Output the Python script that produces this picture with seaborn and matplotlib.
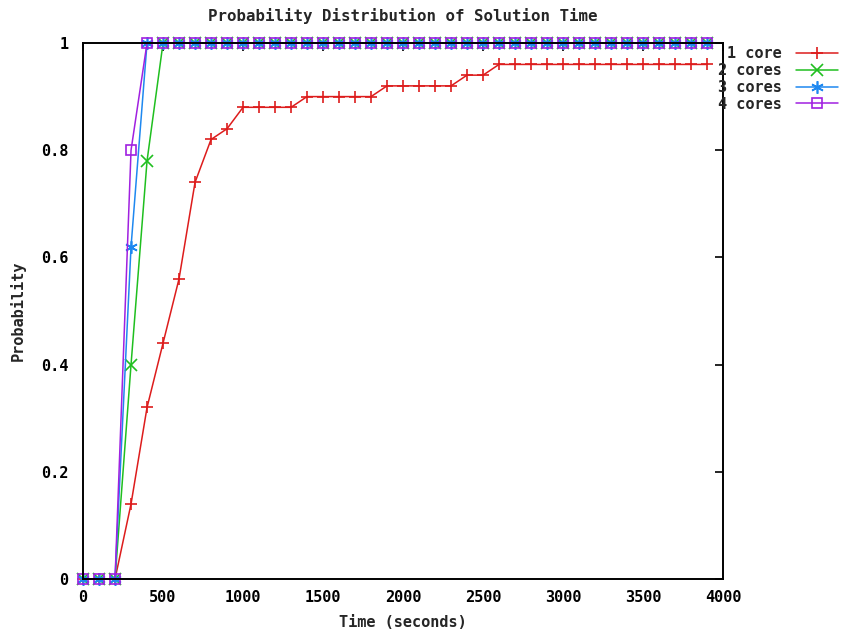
import numpy as np
import pandas as pd
import matplotlib
matplotlib.use("Agg")
import matplotlib.pyplot as plt
import seaborn as sns

# ---- data ----
time_s = list(range(0, 4000, 100))
core1 = [0, 0, 0, 0.14, 0.32, 0.44, 0.56, 0.74, 0.82, 0.84,
         0.88, 0.88, 0.88, 0.88, 0.90, 0.90, 0.90, 0.90, 0.90, 0.92,
         0.92, 0.92, 0.92, 0.92, 0.94, 0.94, 0.96, 0.96, 0.96, 0.96,
         0.96, 0.96, 0.96, 0.96, 0.96, 0.96, 0.96, 0.96, 0.96, 0.96]
core2 = [0, 0, 0, 0.40, 0.78] + [1.0] * 35
core3 = [0, 0, 0, 0.62] + [1.0] * 36
core4 = [0, 0, 0, 0.80] + [1.0] * 36
series_names = ["1 core", "2 cores", "3 cores", "4 cores"]
x_ticks = [0, 500, 1000, 1500, 2000, 2500, 3000, 3500, 4000]
y_ticks = [0, 0.2, 0.4, 0.6, 0.8, 1.0]
y_tick_labels = ["0", "0.2", "0.4", "0.6", "0.8", "1"]

frames = []
for name, vals in zip(series_names, [core1, core2, core3, core4]):
    frames.append(pd.DataFrame({"Time": time_s, "Probability": vals, "Series": name}))
df = pd.concat(frames, ignore_index=True)

colors = {"1 core": "#dd1c1c", "2 cores": "#1fbf1f", "3 cores": "#1e88f0", "4 cores": "#a020e0"}
markers = {"1 core": "+", "2 cores": "x", "3 cores": (6, 2, 0), "4 cores": "s"}

sns.set_style("white")
plt.rcParams["font.family"] = ["DejaVu Sans Mono", "DejaVu Sans"]
plt.rcParams["font.weight"] = "bold"
FS = 11

fig = plt.figure(figsize=(8.43, 6.37), dpi=100)
ax = fig.add_axes([0.0985, 0.0911, 0.7592, 0.8414])

sns.lineplot(data=df, x="Time", y="Probability", hue="Series",
             hue_order=series_names, palette=colors, legend=False,
             linewidth=1.1, ax=ax)

handles = []
for line, name in zip(ax.lines, series_names):
    c = colors[name]
    line.set_marker(markers[name])
    line.set_markeredgecolor(c)
    line.set_markerfacecolor("none")
    line.set_markeredgewidth(1.2)
    line.set_markersize(9 if name != "4 cores" else 7)
    line.set_label(name)
    line.set_clip_on(False)
    handles.append(line)

ax.set_xlim(0, 4000)
ax.set_ylim(0, 1)
ax.set_xticks(x_ticks)
ax.set_xticklabels([str(t) for t in x_ticks])
ax.set_yticks(y_ticks)
ax.set_yticklabels(y_tick_labels)
ax.tick_params(direction="in", length=6, width=1.2, top=True, right=True,
               labelsize=FS, colors="black")
ax.tick_params(axis="y", pad=10.5)
ax.tick_params(axis="x", pad=8)
for s in ax.spines.values():
    s.set_color("black")
    s.set_linewidth(1.4)
    s.set_visible(True)

ax.set_title("Probability Distribution of Solution Time", fontsize=11.3,
             fontweight="bold", pad=15.5)
ax.set_xlabel("Time (seconds)", fontsize=FS, fontweight="bold", labelpad=7)
ax.set_ylabel("Probability", fontsize=FS, fontweight="bold", labelpad=11)

leg = ax.legend(handles=handles, labels=series_names, loc="upper left",
                bbox_to_anchor=(0.992, 0.994), frameon=False, markerfirst=False,
                handlelength=2.8, labelspacing=0.12, borderpad=0.0,
                handletextpad=0.9, borderaxespad=0.0, numpoints=1,
                prop={"family": "DejaVu Sans Mono", "weight": "bold", "size": FS})

fig.savefig("out.png", dpi=100, facecolor="white")
